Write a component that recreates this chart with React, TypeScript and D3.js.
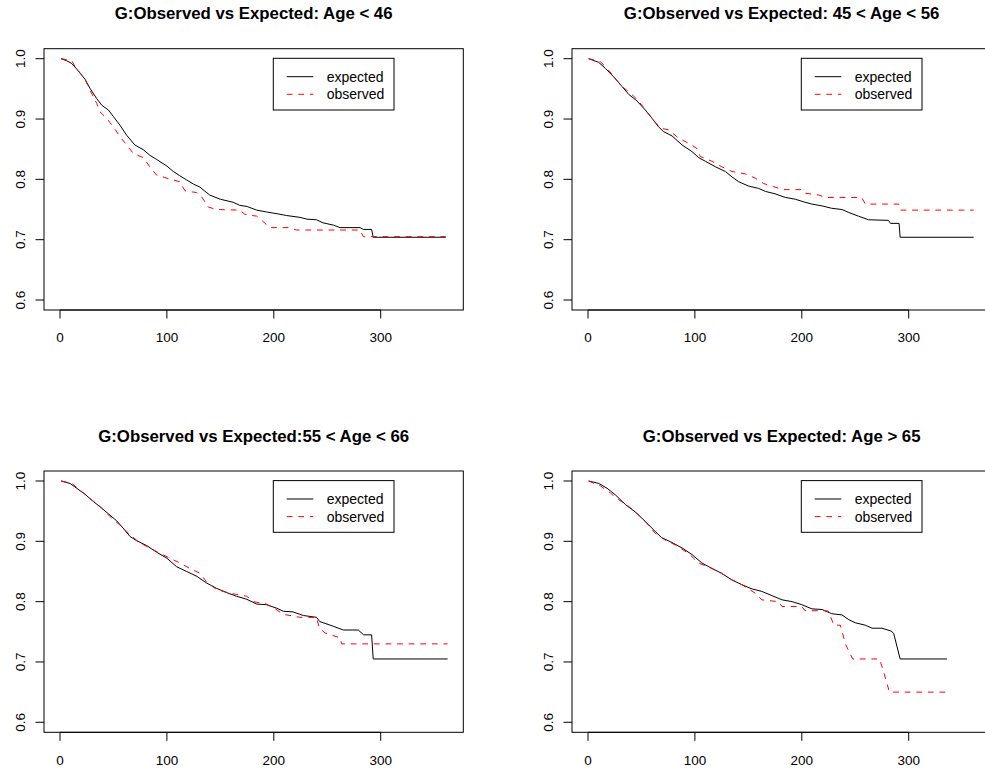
import React from "react";
import * as d3 from "d3";

const titles = [
  "G:Observed vs Expected: Age < 46",
  "G:Observed vs Expected: 45 < Age < 56",
  "G:Observed vs Expected:55 < Age < 66",
  "G:Observed vs Expected: Age > 65",
];
const legendLabels = ["expected", "observed"];
const xTicks = [0, 100, 200, 300];
const yTicks = [0.6, 0.7, 0.8, 0.9, 1.0];

type P = [number, number];

const exp1: P[] = [
  [1, 1.0], [6.2, 0.9967], [11, 0.992], [15.6, 0.983], [23.4, 0.966], [28, 0.951], [34.3, 0.934],
  [39, 0.923], [45.2, 0.915], [50, 0.904], [56, 0.89], [62.4, 0.873], [70, 0.857], [78, 0.849],
  [84, 0.84], [90.4, 0.833], [100, 0.822], [106, 0.813], [112, 0.806], [118.5, 0.799], [125, 0.792],
  [131, 0.787], [140, 0.774], [150, 0.767], [162, 0.762], [168, 0.757], [175, 0.755], [184, 0.749],
  [193, 0.746], [203, 0.743], [212, 0.74], [224.5, 0.737], [231, 0.734], [240, 0.733], [246, 0.728],
  [256, 0.724], [262, 0.72], [280.6, 0.72], [283.8, 0.717], [291.5, 0.717], [293, 0.704], [360.8, 0.704],
];
const obs1: P[] = [
  [1, 1.0], [11, 0.9967], [14, 0.987], [23.4, 0.966], [28, 0.948], [34.3, 0.926], [37.4, 0.912],
  [43.7, 0.901], [50, 0.887], [56, 0.871], [62.4, 0.857], [68.6, 0.843], [78, 0.836], [84, 0.821],
  [90.4, 0.807], [100, 0.802], [112, 0.796], [117, 0.781], [128, 0.778], [132.5, 0.771], [138.8, 0.754],
  [146.5, 0.75], [168, 0.749], [173, 0.742], [184, 0.739], [190, 0.73], [196, 0.72], [215, 0.72],
  [221, 0.716], [280.6, 0.716], [283.8, 0.705], [360.8, 0.705],
];
const exp2: P[] = [
  [0.6, 1.0], [10, 0.994], [16.2, 0.984], [24, 0.97], [31.8, 0.954], [38, 0.941], [45.8, 0.93],
  [53.6, 0.915], [60, 0.901], [66, 0.887], [70.8, 0.879], [78.6, 0.872], [88, 0.857], [97.3, 0.846],
  [103.5, 0.836], [109.8, 0.83], [119, 0.821], [128.5, 0.813], [134.7, 0.804], [141, 0.796], [150, 0.789],
  [159.6, 0.785], [166, 0.78], [175, 0.776], [184.6, 0.77], [194, 0.767], [203, 0.762], [209.5, 0.759],
  [219, 0.756], [228, 0.752], [237.6, 0.75], [244, 0.745], [253, 0.739], [262.5, 0.733], [281, 0.732],
  [283, 0.727], [291, 0.727], [292, 0.704], [360.8, 0.704],
];
const obs2: P[] = [
  [0.6, 1.0], [11.5, 0.995], [17.8, 0.984], [25.6, 0.967], [31.8, 0.954], [39.6, 0.943], [47.4, 0.93],
  [55, 0.912], [61.4, 0.898], [67.7, 0.885], [75.5, 0.882], [85, 0.868], [94, 0.86], [102, 0.851],
  [105, 0.838], [116, 0.83], [125, 0.821], [134.7, 0.813], [147, 0.809], [156.5, 0.802], [164.3, 0.793],
  [173.7, 0.788], [181.5, 0.783], [200, 0.783], [203, 0.777], [216, 0.774], [222, 0.77], [256, 0.77],
  [259.4, 0.759], [290.6, 0.759], [292, 0.749], [360.8, 0.749],
];
const exp3: P[] = [
  [1, 1.0], [9.4, 0.996], [15.6, 0.988], [23.4, 0.978], [31.2, 0.966], [39, 0.955], [45, 0.946],
  [53, 0.934], [59, 0.922], [65.5, 0.908], [71.7, 0.901], [81, 0.893], [90.4, 0.882], [100, 0.872],
  [109, 0.858], [118.5, 0.85], [128, 0.842], [137, 0.831], [146.5, 0.822], [156, 0.815], [165, 0.809],
  [174.6, 0.804], [184, 0.796], [193, 0.795], [203, 0.789], [209, 0.784], [218, 0.783], [227.7, 0.777],
  [240, 0.774], [243, 0.767], [256, 0.759], [265, 0.753], [279, 0.753], [284, 0.745], [291.5, 0.745],
  [293, 0.705], [362.6, 0.705],
];
const obs3: P[] = [
  [1, 1.0], [11, 0.996], [18.7, 0.985], [28, 0.971], [37.4, 0.958], [46.8, 0.941], [56, 0.927],
  [65.5, 0.911], [75, 0.897], [84, 0.889], [93.5, 0.88], [103, 0.872], [112, 0.864], [121.6, 0.855],
  [131, 0.847], [137, 0.833], [146.5, 0.82], [159, 0.814], [174.6, 0.809], [181, 0.8], [193, 0.796],
  [199.6, 0.79], [209, 0.779], [224.5, 0.774], [240, 0.774], [242.6, 0.756], [248, 0.748], [262, 0.74],
  [263.5, 0.73], [362.6, 0.73],
];
const exp4: P[] = [
  [0.6, 1.0], [10, 0.996], [17.8, 0.988], [25.6, 0.977], [35, 0.961], [44, 0.949], [53.6, 0.933],
  [63, 0.916], [69, 0.906], [78.6, 0.898], [88, 0.889], [97.3, 0.878], [106.6, 0.864], [116, 0.855],
  [125, 0.847], [134.7, 0.836], [144, 0.828], [153.5, 0.821], [162.6, 0.817], [172, 0.81], [181.5, 0.803],
  [191, 0.8], [200, 0.795], [209.5, 0.788], [219, 0.787], [228, 0.78], [237.6, 0.778], [244, 0.77],
  [250, 0.765], [259.4, 0.761], [265.7, 0.756], [275, 0.756], [284, 0.751], [286, 0.747], [292, 0.705],
  [335.8, 0.705],
];
const obs4: P[] = [
  [0.6, 1.0], [11.5, 0.992], [21, 0.98], [28.7, 0.969], [38, 0.958], [47.4, 0.944], [55, 0.93],
  [63, 0.913], [72.3, 0.902], [81.7, 0.894], [94, 0.88], [103.5, 0.864], [116, 0.855], [125, 0.847],
  [134.7, 0.836], [144, 0.828], [156.5, 0.814], [162.6, 0.803], [178, 0.8], [181.5, 0.792], [200, 0.792],
  [203, 0.785], [222, 0.785], [225, 0.784], [230, 0.761], [236, 0.761], [241, 0.729], [247.6, 0.705],
  [272.6, 0.705], [275.5, 0.69], [282, 0.65], [335.8, 0.65],
];

const expectedSeries = [exp1, exp2, exp3, exp4];
const observedSeries = [obs1, obs2, obs3, obs4];

const W = 985;
const H = 769;
const FONT = "'Liberation Sans', Arial, Helvetica, sans-serif";

function Panel({ i, dx, dy }: { i: number; dx: number; dy: number }) {
  const boxL = 44, boxR = 463.3, boxT = 48.7, boxB = 310;
  const x = d3.scaleLinear().domain([0, 300]).range([60, 380.7]);
  const y = d3.scaleLinear().domain([0.6, 1.0]).range([300, 58.7]);
  const line = d3
    .line<P>()
    .x((d) => x(d[0]))
    .y((d) => y(d[1]));
  const cx = (boxL + boxR) / 2;
  const legX = 273.3, legY = 58.3, legW = 120.7, legH = 51.7;
  return (
    <g transform={`translate(${dx},${dy})`}>
      <text x={cx} y={19.3} textAnchor="middle" fontWeight="bold" fontSize={16.8} fontFamily={FONT}>
        {titles[i]}
      </text>
      <path d={line(expectedSeries[i]) || ""} fill="none" stroke="black" strokeWidth={1} />
      <path
        d={line(observedSeries[i]) || ""}
        fill="none"
        stroke="red"
        strokeWidth={1}
        strokeDasharray="5.8,5.8"
      />
      <rect x={boxL} y={boxT} width={boxR - boxL} height={boxB - boxT} fill="none" stroke="black" strokeWidth={1} />
      {xTicks.map((t) => (
        <g key={"x" + t}>
          <line x1={x(t)} x2={x(t)} y1={boxB} y2={boxB + 8.5} stroke="black" />
          <text x={x(t)} y={342.3} textAnchor="middle" fontSize={13.5} fontFamily={FONT}>
            {String(t)}
          </text>
        </g>
      ))}
      <line x1={x(0)} x2={x(300)} y1={boxB} y2={boxB} stroke="black" />
      {yTicks.map((t) => (
        <g key={"y" + t}>
          <line x1={boxL - 8.5} x2={boxL} y1={y(t)} y2={y(t)} stroke="black" />
          <text
            transform={`translate(25,${y(t)}) rotate(-90)`}
            textAnchor="middle"
            fontSize={13.5}
            fontFamily={FONT}
          >
            {t.toFixed(1)}
          </text>
        </g>
      ))}
      <rect x={legX} y={legY} width={legW} height={legH} fill="white" stroke="black" strokeWidth={1} />
      <line x1={286.7} x2={313.3} y1={76.7} y2={76.7} stroke="black" />
      <line x1={286.7} x2={313.3} y1={94.3} y2={94.3} stroke="red" strokeDasharray="5.8,5.8" />
      <text x={326.7} y={81.7} fontSize={14} fontFamily={FONT}>
        {legendLabels[0]}
      </text>
      <text x={326.7} y={99.3} fontSize={14} fontFamily={FONT}>
        {legendLabels[1]}
      </text>
    </g>
  );
}

export default function App() {
  const offsets: [number, number][] = [
    [0, 0],
    [528, 0],
    [0, 422.3],
    [528, 422.3],
  ];
  return (
    <svg
      width={W}
      height={H}
      viewBox={`0 0 ${W} ${H}`}
      style={{ position: "absolute", left: 0, top: 0, background: "white" }}
    >
      <rect x={0} y={0} width={W} height={H} fill="white" />
      {offsets.map(([dx, dy], i) => (
        <Panel key={i} i={i} dx={dx} dy={dy} />
      ))}
    </svg>
  );
}
